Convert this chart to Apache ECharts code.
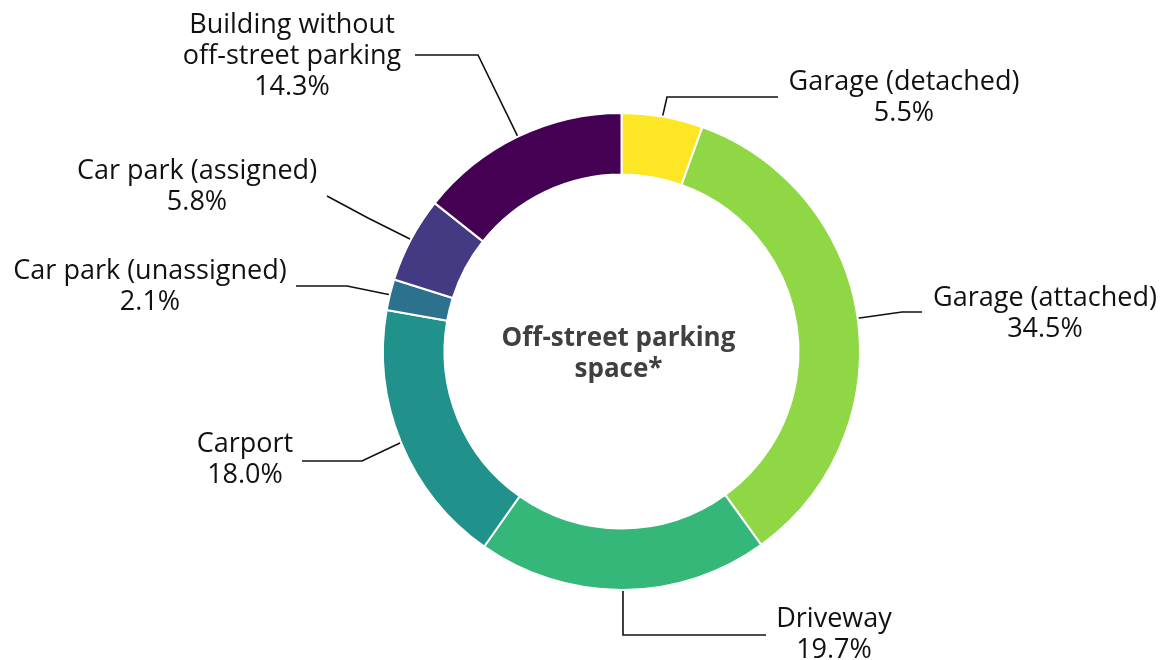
<!DOCTYPE html>
<html>
<head>
<meta charset="utf-8">
<script src="https://cdn.jsdelivr.net/npm/echarts@6/dist/echarts.min.js"></script>
<style>
  html, body { margin: 0; padding: 0; background: #ffffff; }
  #chart { width: 1162px; height: 660px; }
</style>
</head>
<body>
<div id="chart"></div>
<script>
// Parking categories, clockwise from 12 o'clock
const categories = [
  'Garage (detached)',
  'Garage (attached)',
  'Driveway',
  'Carport',
  'Car park (unassigned)',
  'Car park (assigned)',
  'Building without\noff-street parking'
];
// Share of households, in percent
const shares = [5.5, 34.5, 19.7, 18.0, 2.1, 5.8, 14.3];
// Viridis-style palette, one colour per category
const palette = ['#fde725', '#8fd744', '#35b779', '#21918c', '#2c728e', '#443983', '#440154'];
const centerTitle = 'Off-street parking\nspace*';

// Ring geometry
const CX = 621.5, CY = 351.5, R_IN = 177, R_OUT = 238.5;
const FONT = '"Open Sans", Lato, sans-serif';

// Label anchor (centre of the text block) and the elbow / end of each leader line
const labelPlacement = [
  { x: 904,  y: 98,  elbow: [667, 97],  end: [778, 97] },
  { x: 1045, y: 314, elbow: [902, 312], end: [922, 312] },
  { x: 834,  y: 635, elbow: [623, 635], end: [766, 635] },
  { x: 245,  y: 460, elbow: [362, 461], end: [302, 461] },
  { x: 150,  y: 287, elbow: [347, 286], end: [296, 286] },
  { x: 197,  y: 187, elbow: [368, 218], end: [327, 196] },
  { x: 292,  y: 56,  elbow: [478, 55],  end: [415, 55] }
];

const total = shares.reduce((a, b) => a + b, 0);
// Mid-angle point on the outer edge of each slice (clockwise from top)
function edgePoint(idx) {
  let before = 0;
  for (let i = 0; i < idx; i++) before += shares[i];
  const frac = (before + shares[idx] / 2) / total;
  const ang = frac * Math.PI * 2;
  return [CX + R_OUT * Math.sin(ang), CY - R_OUT * Math.cos(ang)];
}

const chart = echarts.init(document.getElementById('chart'), null, { renderer: 'canvas' });

chart.setOption({
  backgroundColor: '#ffffff',
  animation: false,
  graphic: [{
    type: 'text',
    x: CX - 3,
    y: CY + 3,
    style: {
      text: centerTitle,
      x: 0, y: 0,
      align: 'center',
      verticalAlign: 'middle',
      fill: '#404040',
      font: 'bold 26px ' + FONT,
      lineHeight: 31
    }
  }],
  series: [{
    type: 'pie',
    center: [CX, CY],
    radius: [R_IN, R_OUT],
    startAngle: 90,
    clockwise: true,
    avoidLabelOverlap: false,
    silent: true,
    itemStyle: { borderColor: '#ffffff', borderWidth: 2 },
    label: {
      show: true,
      position: 'outside',
      color: '#111111',
      fontFamily: FONT,
      fontSize: 27,
      lineHeight: 31,
      align: 'center',
      formatter: p => p.name + '\n' + shares[p.dataIndex].toFixed(1) + '%'
    },
    labelLine: {
      show: true,
      lineStyle: { color: '#111111', width: 1.6 }
    },
    labelLayout: params => {
      const pl = labelPlacement[params.dataIndex];
      return {
        x: pl.x,
        y: pl.y,
        align: 'center',
        verticalAlign: 'middle',
        labelLinePoints: [edgePoint(params.dataIndex), pl.elbow, pl.end]
      };
    },
    data: categories.map((name, i) => ({
      name: name,
      value: shares[i],
      itemStyle: { color: palette[i] }
    }))
  }]
});
</script>
</body>
</html>
